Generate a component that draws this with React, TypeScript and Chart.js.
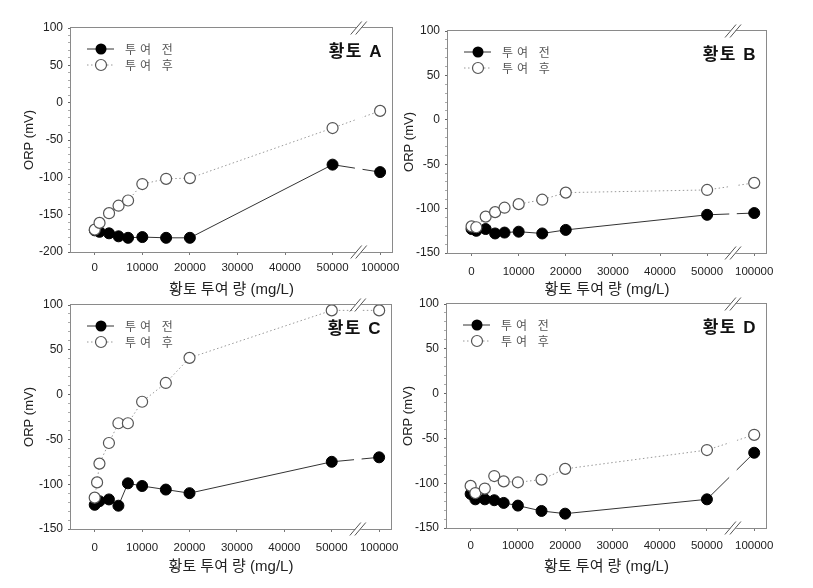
import { useEffect, useRef } from "react";
import { Chart, registerables } from "chart.js";

Chart.register(...registerables);

// ---------- data ----------
const DOSE = [0, 500, 1000, 3000, 5000, 7000, 10000, 15000, 20000, 50000, 100000];
const X_TICK_VALUES = [0, 10000, 20000, 30000, 40000, 50000, 100000];
const LEGEND_LABELS = ["투여 전", "투여 후"];
const X_TITLE = "황토 투여 량 (mg/L)";
const Y_TITLE = "ORP (mV)";

const A_BEFORE = [-171, null, -173, -175, -179, -181, -180, -181, -181, -83, -93];
const A_AFTER = [-170, null, -161, -148, -138, -131, -109, -102, -101, -34, -11];
const B_BEFORE = [-123, null, -125, -123, -128, -127, -126, -128, -124, -107, -105];
const B_AFTER = [-120, null, -121, -109, -104, -99, -95, -90, -82, -79, -71];
const C_BEFORE = [-123, null, -119, -117, -124, -99, -102, -106, -110, -75, -70];
const C_AFTER = [-115, -98, -77, -54, -32, -32, -8, 13, 41, 94, 94];
const D_BEFORE = [-112, null, -118, -118, -119, -122, -125, -131, -134, -118, -66];
const D_AFTER = [-103, null, -111, -106, -92, -98, -99, -96, -84, -63, -46];

// broken x axis: 0..50000 linear, 100000 drawn where 60000 would be
const BREAK_AT = 50000;
const tx = (v: number) => (v <= BREAK_AT ? v : BREAK_AT + (v - BREAK_AT) / 5);
const untx = (v: number) => (v <= BREAK_AT ? v : BREAK_AT + (v - BREAK_AT) * 5);

type Panel = {
  name: string;
  before: (number | null)[];
  after: (number | null)[];
  yMin: number;
  yMax: number;
  box: { left: number; top: number; w: number; h: number };
  area: { left: number; top: number; right: number; bottom: number };
  xTickPad: number;
  xTitlePad: number;
  yTitlePad: number;
};

const PANELS: Panel[] = [
  {
    name: "황토 A", before: A_BEFORE, after: A_AFTER, yMin: -200, yMax: 100,
    box: { left: 0, top: 0, w: 406, h: 302 },
    area: { left: 71, top: 28, right: 392, bottom: 252 },
    xTickPad: 6, xTitlePad: 3, yTitlePad: 22,
  },
  {
    name: "황토 B", before: B_BEFORE, after: B_AFTER, yMin: -150, yMax: 100,
    box: { left: 400, top: 0, w: 375, h: 302 },
    area: { left: 48, top: 31, right: 366, bottom: 253 },
    xTickPad: 9, xTitlePad: 3, yTitlePad: 2,
  },
  {
    name: "황토 C", before: C_BEFORE, after: C_AFTER, yMin: -150, yMax: 100,
    box: { left: 0, top: 294, w: 406, h: 294 },
    area: { left: 71, top: 11, right: 391, bottom: 235 },
    xTickPad: 9, xTitlePad: 12, yTitlePad: 22,
  },
  {
    name: "황토 D", before: D_BEFORE, after: D_AFTER, yMin: -150, yMax: 100,
    box: { left: 400, top: 294, w: 375, h: 294 },
    area: { left: 47, top: 10, right: 366, bottom: 234 },
    xTickPad: 8, xTitlePad: 12, yTitlePad: 1,
  },
];

const LATIN = "'Liberation Sans', Arial, 'Noto Sans CJK KR', sans-serif";
const KR = "'Noto Sans CJK KR', 'Liberation Sans', sans-serif";

function toPoints(vals: (number | null)[]) {
  return DOSE.map((d, i) => ({ x: tx(d), y: vals[i] }));
}

function makeDecor(panel: Panel) {
  return {
    id: "decor",
    afterDatasetsDraw(chart: any) {
      const { ctx, chartArea } = chart;
      const { left, top, right, bottom } = chartArea;
      const xs = chart.scales.x;
      ctx.save();
      // frame
      ctx.strokeStyle = "#8a8a8a";
      ctx.lineWidth = 1;
      ctx.setLineDash([]);
      ctx.strokeRect(Math.round(left) - 0.5, Math.round(top) - 0.5, Math.round(right - left) + 1, Math.round(bottom - top) + 1);
      // axis break band
      const x1 = xs.getPixelForValue(54700);
      const x2 = xs.getPixelForValue(56300);
      ctx.fillStyle = "#ffffff";
      ctx.fillRect(x1, top - 2, x2 - x1, bottom - top + 4);
      const c = (x1 + x2) / 2;
      ctx.beginPath();
      for (const y of [Math.round(top) - 0.5, Math.round(bottom) + 0.5]) {
        ctx.moveTo(x1, y);
        ctx.lineTo(c - 2.5, y);
        ctx.moveTo(c + 2.5, y);
        ctx.lineTo(x2, y);
      }
      ctx.stroke();
      ctx.strokeStyle = "#555";
      ctx.beginPath();
      for (const y of [top, bottom]) {
        for (const cc of [c - 2.5, c + 2.5]) {
          ctx.moveTo(cc - 5.5, y + 6.5);
          ctx.lineTo(cc + 5.5, y - 6.5);
        }
      }
      ctx.stroke();

      // legend
      const L = left, T = top;
      const rows = [
        { y: T + 21, filled: true },
        { y: T + 37, filled: false },
      ];
      rows.forEach((r, i) => {
        ctx.save();
        ctx.beginPath();
        if (r.filled) {
          ctx.strokeStyle = "#333";
          ctx.setLineDash([]);
        } else {
          ctx.strokeStyle = "#999";
          ctx.setLineDash([1.5, 2.5]);
        }
        ctx.lineWidth = 1;
        ctx.moveTo(L + 16, r.y);
        ctx.lineTo(L + 43, r.y);
        ctx.stroke();
        ctx.setLineDash([]);
        ctx.beginPath();
        ctx.arc(L + 30, r.y, 5.5, 0, Math.PI * 2);
        if (r.filled) {
          ctx.fillStyle = "#000";
          ctx.fill();
        } else {
          ctx.fillStyle = "#fff";
          ctx.fill();
          ctx.strokeStyle = "#555";
          ctx.lineWidth = 1.2;
          ctx.stroke();
        }
        ctx.fillStyle = "#555";
        ctx.font = `12px ${KR}`;
        (ctx as any).letterSpacing = "4px";
        ctx.textBaseline = "middle";
        ctx.textAlign = "left";
        ctx.fillText(LEGEND_LABELS[i], L + 54, r.y);
        ctx.restore();
      });

      // panel label
      ctx.fillStyle = "#111";
      ctx.font = `bold 17px ${LATIN}`;
      (ctx as any).letterSpacing = "1.5px";
      ctx.textAlign = "right";
      ctx.textBaseline = "middle";
      ctx.fillText(panel.name, right - 9, top + 24);
      ctx.restore();
    },
  };
}

function PanelChart({ panel }: { panel: Panel }) {
  const ref = useRef<HTMLCanvasElement | null>(null);
  useEffect(() => {
    if (!ref.current) return;
    const { box, area } = panel;
    const yTicks: number[] = [];
    for (let v = panel.yMin; v <= panel.yMax; v += 10) yTicks.push(v);
    const chart = new Chart(ref.current, {
      type: "line",
      data: {
        datasets: [
          {
            label: LEGEND_LABELS[1],
            data: toPoints(panel.after) as any,
            borderColor: "#9a9a9a",
            borderWidth: 1,
            borderDash: [1.5, 2.5],
            pointRadius: 5.5,
            pointBackgroundColor: "#fff",
            pointBorderColor: "#555",
            pointBorderWidth: 1.2,
            spanGaps: true,
            tension: 0,
          },
          {
            label: LEGEND_LABELS[0],
            data: toPoints(panel.before) as any,
            borderColor: "#333",
            borderWidth: 1,
            pointRadius: 5.5,
            pointBackgroundColor: "#000",
            pointBorderColor: "#000",
            pointBorderWidth: 1,
            spanGaps: true,
            tension: 0,
          },
        ],
      },
      options: {
        animation: false,
        responsive: false,
        maintainAspectRatio: false,
        devicePixelRatio: 1,
        layout: { padding: { left: 0, top: area.top, right: box.w - area.right, bottom: 0 } },
        plugins: { legend: { display: false }, tooltip: { enabled: false } },
        scales: {
          x: {
            type: "linear",
            min: -5000,
            max: 62500,
            afterBuildTicks: (s: any) => {
              s.ticks = X_TICK_VALUES.map((v) => ({ value: tx(v) }));
            },
            afterFit: (s: any) => {
              s.height = box.h - area.bottom;
              s.paddingLeft = 0;
              s.paddingRight = 0;
            },
            ticks: {
              autoSkip: false,
              maxRotation: 0,
              padding: panel.xTickPad,
              color: "#222",
              font: { family: LATIN, size: 11.5 },
              callback: (v: any) => String(Math.round(untx(Number(v)))),
            },
            grid: { drawOnChartArea: false, drawTicks: true, tickLength: 3, color: "#777" },
            border: { display: false },
            title: {
              display: true,
              text: X_TITLE,
              color: "#222",
              font: { family: LATIN, size: 15, lineHeight: 1.2 },
              padding: { top: 0, bottom: panel.xTitlePad },
            },
          },
          y: {
            type: "linear",
            min: panel.yMin,
            max: panel.yMax,
            afterBuildTicks: (s: any) => {
              s.ticks = yTicks.map((v) => ({ value: v }));
            },
            afterFit: (s: any) => {
              s.width = area.left;
              s.paddingTop = 0;
              s.paddingBottom = 0;
            },
            ticks: {
              autoSkip: false,
              padding: 5,
              color: "#222",
              font: { family: LATIN, size: 12 },
              callback: (v: any) => (Number(v) % 50 === 0 ? String(v) : ""),
            },
            grid: {
              drawOnChartArea: false,
              drawTicks: true,
              tickLength: 3,
              color: (c: any) => (c.tick && c.tick.value % 50 === 0 ? "#666" : "#aaa"),
            },
            border: { display: false },
            title: {
              display: true,
              text: Y_TITLE,
              color: "#222",
              font: { family: LATIN, size: 13, lineHeight: 1.2 },
              padding: { top: panel.yTitlePad, bottom: 0 },
            },
          },
        },
      },
      plugins: [makeDecor(panel)],
    });
    return () => chart.destroy();
  }, [panel]);
  return (
    <canvas
      ref={ref}
      width={panel.box.w}
      height={panel.box.h}
      style={{ position: "absolute", left: panel.box.left, top: panel.box.top, width: panel.box.w, height: panel.box.h }}
    />
  );
}

export default function App() {
  return (
    <div style={{ position: "absolute", left: 0, top: 0, width: 813, height: 588, background: "#fff", overflow: "hidden" }}>
      {PANELS.map((p) => (
        <PanelChart key={p.name} panel={p} />
      ))}
    </div>
  );
}
